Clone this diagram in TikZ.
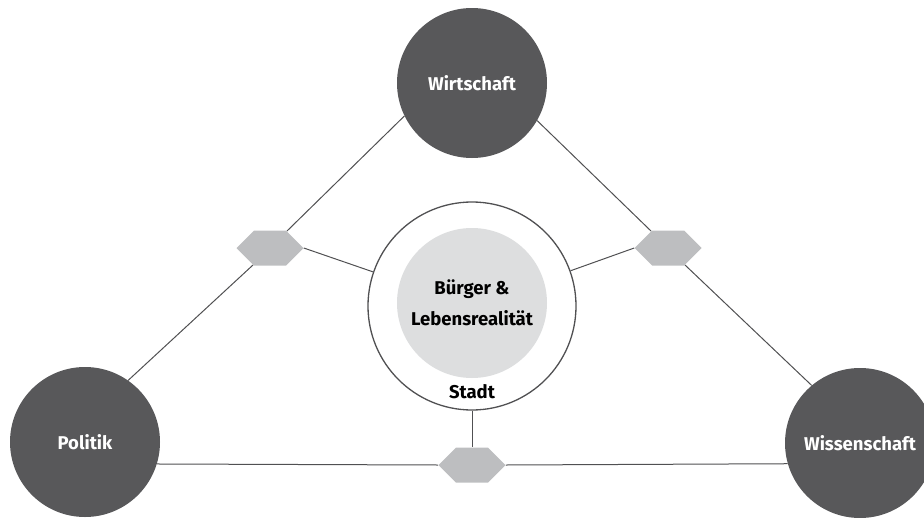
\documentclass[tikz,border=0pt]{standalone}
\usepackage{fontspec}
\setmainfont{Fira Sans}
\usetikzlibrary{shapes.symbols}
\newlength{\du}
\setlength{\du}{1pt}

\begin{document}
\begin{tikzpicture}[x=\du,y=-\du,
  sector/.style={circle,fill=sectorgray,minimum size=150\du,inner sep=0pt,
    text=white,font=\fontsize{18.5}{22}\selectfont\bfseries},
  linkhex/.style={signal,signal to=east and west,signal from=nowhere,
    fill=hexgray,minimum width=67\du,minimum height=35\du,inner sep=0pt},
  wire/.style={draw=wiregray,line width=1\du}]
  \definecolor{sectorgray}{RGB}{88,88,90}
  \definecolor{hexgray}{RGB}{189,190,192}
  \definecolor{coregray}{RGB}{221,222,223}
  \definecolor{wiregray}{RGB}{80,80,82}
  \useasboundingbox (0,0) rectangle (924,517);
  % the three sectors
  \node[sector] (wirt) at (472,83){Wirtschaft};
  \node[sector] (pol) at (85,442){Politik};
  \node[sector] (wiss) at (860,443){Wissenschaft};
  % city with citizens
  \node[circle,draw=wiregray,line width=1.3\du,fill=white,minimum size=208\du] (stadt) at (472,306){};
  \node[circle,fill=coregray,minimum size=150\du,align=center,
    font=\fontsize{18.5}{31}\selectfont\bfseries] (buerger) at (472,303){B\"urger \&\\Lebensrealit\"at};
  \node[font=\fontsize{18.5}{22}\selectfont\bfseries] (stadtlabel) at (472,392){Stadt};
  % the links
  \node[linkhex] (hexL) at (270,248){};
  \node[linkhex] (hexR) at (668,248){};
  \node[linkhex] (hexB) at (472,465){};
  \draw[wire] (wirt.206) -- (hexL.45);
  \draw[wire] (hexL.225) -- (pol.55);
  \draw[wire] (hexL.east) -- (stadt);
  \draw[wire] (wirt.330) -- (hexR.135);
  \draw[wire] (hexR.315) -- (wiss.130);
  \draw[wire] (hexR.west) -- (stadt);
  \draw[wire] (stadt.south) -- (hexB.north);
  \draw[wire] (pol.-17) -- (hexB.west);
  \draw[wire] (hexB.east) -- (wiss.196);
\end{tikzpicture}
\end{document}
